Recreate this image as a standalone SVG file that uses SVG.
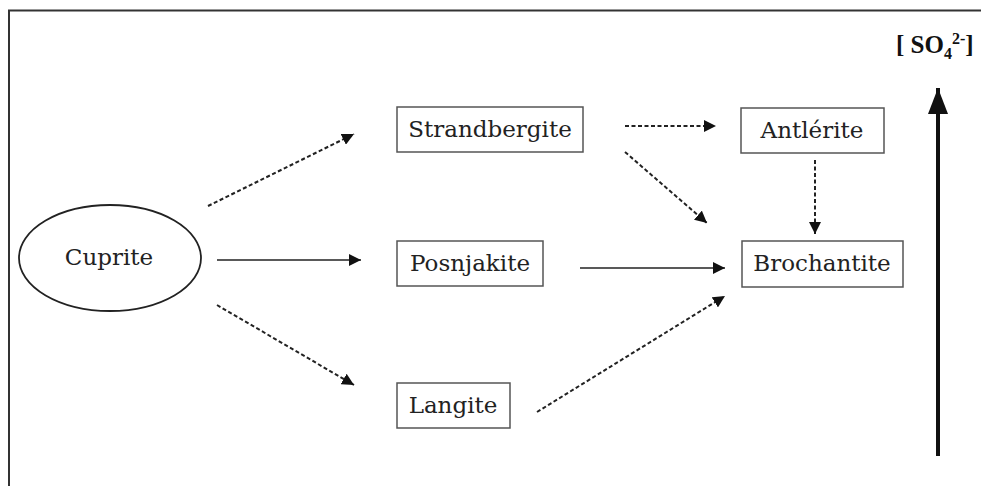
<svg xmlns="http://www.w3.org/2000/svg" width="981" height="486" viewBox="0 0 981 486">
<style>
.box{fill:#fff;stroke:#555;stroke-width:1.5}
.lbl{font-family:"DejaVu Serif","Liberation Serif",serif;font-size:23px;fill:#222;text-anchor:middle}
.solid{stroke:#222;stroke-width:1.5;fill:none}
.dash{stroke:#222;stroke-width:2;fill:none;stroke-dasharray:4 2.5}
</style>
<defs>
<marker id="ah" viewBox="0 0 10 10" refX="10" refY="5" markerWidth="12" markerHeight="12" markerUnits="userSpaceOnUse" orient="auto">
<path d="M0,0 L10,5 L0,10 z" fill="#111"/>
</marker>
<marker id="big" viewBox="0 0 10 10" refX="10" refY="5" markerWidth="26" markerHeight="20" markerUnits="userSpaceOnUse" orient="auto" preserveAspectRatio="none">
<path d="M0,0 L10,5 L0,10 z" fill="#111"/>
</marker>
</defs>
<rect width="981" height="486" fill="#fff"/>
<path d="M9,486 V10.5 H981" fill="none" stroke="#333" stroke-width="2"/>
<g id="cuprite"><ellipse cx="110" cy="258" rx="91" ry="53" fill="#fff" stroke="#222" stroke-width="1.8"/><text class="lbl" x="109" y="265">Cuprite</text></g>
<g id="strandbergite"><rect class="box" x="397" y="107" width="186" height="45"/><text class="lbl" x="490" y="137">Strandbergite</text></g>
<g id="antlerite"><rect class="box" x="741" y="108" width="143" height="45"/><text class="lbl" x="812" y="138">Antlérite</text></g>
<g id="posnjakite"><rect class="box" x="397" y="241" width="146" height="45"/><text class="lbl" x="470" y="271">Posnjakite</text></g>
<g id="brochantite"><rect class="box" x="742" y="241" width="161" height="46"/><text class="lbl" x="822" y="271">Brochantite</text></g>
<g id="langite"><rect class="box" x="397" y="383" width="113" height="45"/><text class="lbl" x="453" y="413">Langite</text></g>
<g id="so4"><text x="896" y="53" style="font-family:'Liberation Serif','DejaVu Serif',serif;font-size:25px;font-weight:bold;fill:#111">[ SO<tspan font-size="16" dy="6">4</tspan><tspan font-size="16" dy="-15">2-</tspan><tspan dy="9">]</tspan></text></g>
<g id="connectors">
<line class="dash" x1="208" y1="206" x2="354" y2="134" marker-end="url(#ah)"/>
<line class="solid" x1="217" y1="260" x2="361" y2="260" marker-end="url(#ah)"/>
<line class="dash" x1="217" y1="305" x2="354" y2="385" marker-end="url(#ah)"/>
<line class="dash" x1="625" y1="126" x2="716" y2="126" marker-end="url(#ah)"/>
<line class="dash" x1="625" y1="152" x2="707" y2="223" marker-end="url(#ah)"/>
<line class="dash" x1="815" y1="160" x2="815" y2="234" marker-end="url(#ah)"/>
<line class="solid" x1="580" y1="268" x2="725" y2="268" marker-end="url(#ah)"/>
<line class="dash" x1="537" y1="412" x2="725" y2="296" marker-end="url(#ah)"/>
<line x1="938" y1="456" x2="938" y2="88" stroke="#111" stroke-width="4" marker-end="url(#big)"/>
</g>
</svg>
